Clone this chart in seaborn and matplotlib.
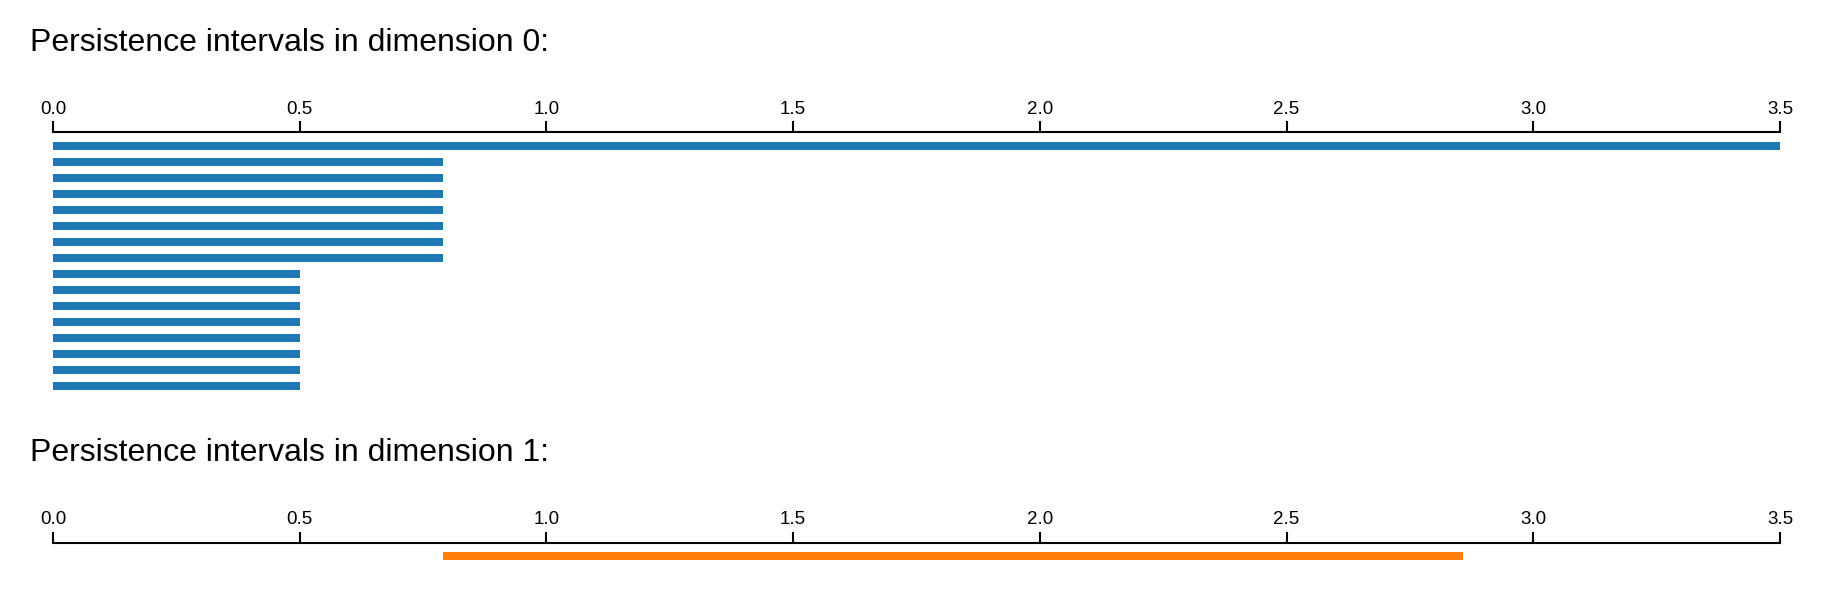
import matplotlib
matplotlib.use("Agg")
import matplotlib.pyplot as plt
import seaborn as sns
import numpy as np
import pandas as pd

# ---- data ----
dim0_birth = [0.0] * 16
dim0_death = [3.5] + [0.79] * 7 + [0.5] * 8
dim1_birth = [0.79]
dim1_death = [2.858]
tick_values = [0.0, 0.5, 1.0, 1.5, 2.0, 2.5, 3.0, 3.5]
tick_labels = ["0.0", "0.5", "1.0", "1.5", "2.0", "2.5", "3.0", "3.5"]
titles = ["Persistence intervals in dimension 0:", "Persistence intervals in dimension 1:"]
colors = ["#1f77b4", "#ff7f0e"]

sns.set_theme(style="white")
plt.rcParams["font.family"] = ["Liberation Sans", "DejaVu Sans"]

W, H = 1828, 598
fig = plt.figure(figsize=(W / 100, H / 100), dpi=100)

def fx(px):
    return px / W

def fy(px):
    return 1 - px / H

x0, x1 = 53, 1780
# axes 0
ax0_top, ax0_bot = 132.3, 400
ax0 = fig.add_axes([fx(x0), fy(ax0_bot), fx(x1 - x0), (ax0_bot - ax0_top) / H])
# axes 1
ax1_top, ax1_bot = 542.7, 570
ax1 = fig.add_axes([fx(x0), fy(ax1_bot), fx(x1 - x0), (ax1_bot - ax1_top) / H])

df0 = pd.DataFrame({"death": dim0_death, "idx": list(range(len(dim0_death)))})
sns.barplot(data=df0, x="death", y="idx", orient="h", width=0.5, color=colors[0],
            saturation=1, linewidth=0, ax=ax0)

# dimension 1 intervals (birth offset)
ys1 = np.arange(len(dim1_birth))
lengths1 = [d - b for b, d in zip(dim1_birth, dim1_death)]
ax1.barh(ys1, lengths1, left=dim1_birth, height=0.5, color=colors[1], linewidth=0)

ax0.set_ylim(15 + (ax0_bot - 386) / 16, -(146 - ax0_top) / 16)
ax1.set_ylim((ax1_bot - 556) / 16, -(556 - ax1_top) / 16)

for ax in (ax0, ax1):
    ax.set_xlim(0, 3.5)
    ax.xaxis.tick_top()
    ax.set_xticks(tick_values)
    ax.set_xticklabels(tick_labels)
    ax.set_yticks([])
    ax.set_xlabel("")
    ax.set_ylabel("")
    for s in ("left", "right", "bottom"):
        ax.spines[s].set_visible(False)
    ax.spines["top"].set_visible(True)
    ax.spines["top"].set_color("black")
    ax.spines["top"].set_linewidth(1.5)
    ax.tick_params(axis="x", which="major", direction="out", length=8, width=1.5,
                   color="black", labelsize=13.5, labelcolor="black", pad=2.5,
                   top=True, bottom=False, labeltop=True, labelbottom=False)
    ax.set_facecolor("white")
    ax.grid(False)

fig.text(fx(29.6), fy(50.7), titles[0], fontsize=23, va="baseline", ha="left", color="black")
fig.text(fx(29.6), fy(460.7), titles[1], fontsize=23, va="baseline", ha="left", color="black")

fig.savefig("out.png", dpi=100, facecolor="white")
